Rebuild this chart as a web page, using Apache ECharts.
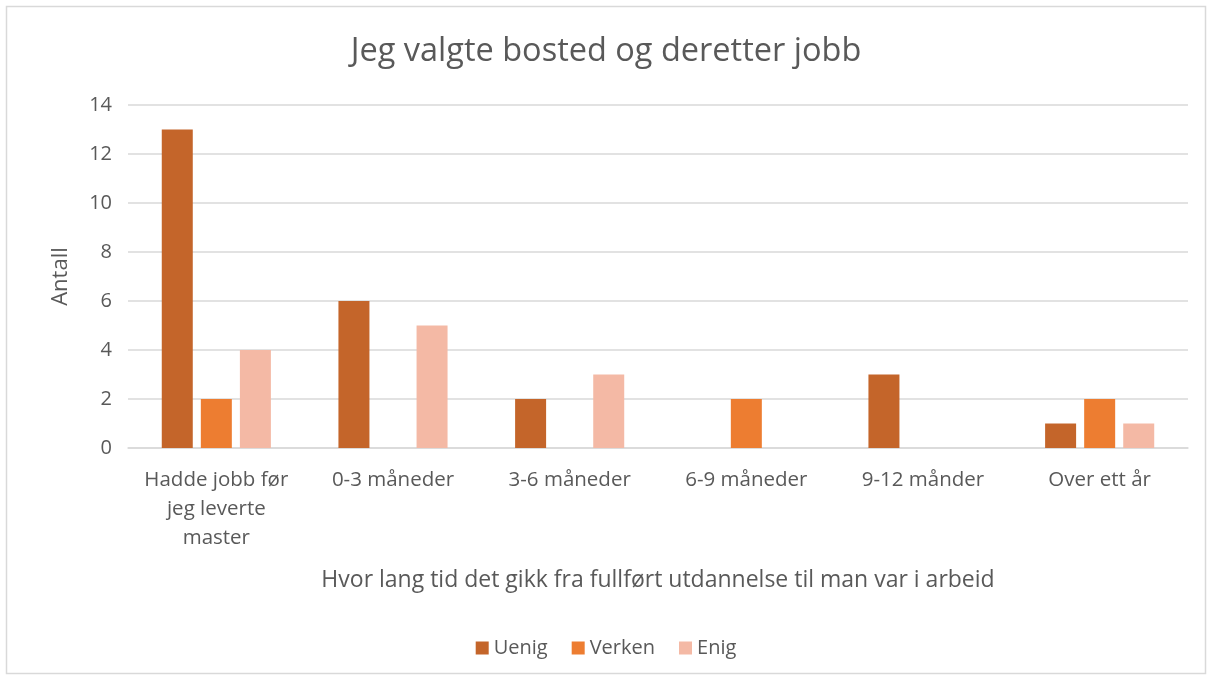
<!DOCTYPE html>
<html><head><meta charset="utf-8">
<script src="https://cdn.jsdelivr.net/npm/echarts@6/dist/echarts.min.js"></script>
<style>html,body{margin:0;padding:0;background:#fff}#c{width:1212px;height:680px}</style>
</head><body><div id="c"></div>
<script>
const categories = ["Hadde jobb før\njeg leverte\nmaster", "0-3 måneder", "3-6 måneder", "6-9 måneder", "9-12 månder", "Over ett år"];
const uenig = [13, 6, 2, 0, 3, 1];
const verken = [2, 0, 0, 2, 0, 2];
const enig = [4, 5, 3, 0, 0, 1];
const yTicks = [0, 2, 4, 6, 8, 10, 12, 14];

const font = "Open Sans, Liberation Sans, sans-serif";
const hideZero = arr => arr.map(v => v === 0 ? null : v);
const chart = echarts.init(document.getElementById('c'));
chart.setOption({
  animation: false,
  backgroundColor: '#fff',
  graphic: [{type:'rect', shape:{x:6.5,y:6.5,width:1199,height:667}, style:{fill:'none', stroke:'#d9d9d9', lineWidth:1.5}}],
  title: {text: 'Jeg valgte bosted og deretter jobb', left: 'center', top: 30,
    textStyle: {fontFamily: font, fontSize: 32.5, fontWeight: 'normal', color: '#595959'}},
  legend: {bottom: 17, left: 'center', itemWidth: 13, itemHeight: 13, itemGap: 24,
    icon: 'rect', textStyle: {fontFamily: font, fontSize: 20, color: '#595959'},
    data: ['Uenig', 'Verken', 'Enig']},
  grid: {left: 128, right: 24, top: 105, bottom: 232, containLabel: false},
  xAxis: {type: 'category', data: categories,
    axisLine: {lineStyle: {color: '#d9d9d9', width: 1.5}}, axisTick: {show: false},
    axisLabel: {fontFamily: font, fontSize: 20.5, color: '#595959', lineHeight: 29, margin: 18, interval: 0},
    name: 'Hvor lang tid det gikk fra fullført utdannelse til man var i arbeid',
    nameLocation: 'middle', nameGap: 121,
    nameTextStyle: {fontFamily: font, fontSize: 23, color: '#595959'}},
  yAxis: {type: 'value', min: 0, max: 14, interval: 2,
    axisLabel: {fontFamily: font, fontSize: 20, color: '#595959', margin: 16},
    splitLine: {lineStyle: {color: '#d9d9d9', width: 1.5}},
    axisLine: {show: false}, axisTick: {show: false},
    name: 'Antall', nameLocation: 'middle', nameGap: 56, nameRotate: 90,
    nameTextStyle: {fontFamily: font, fontSize: 22, color: '#595959'}},
  series: [
    {name: 'Uenig', type: 'bar', data: hideZero(uenig), barWidth: 31, barGap: '26%', itemStyle: {color: '#C4652A'}},
    {name: 'Verken', type: 'bar', data: hideZero(verken), barWidth: 31, barGap: '26%', itemStyle: {color: '#ED7D31'}},
    {name: 'Enig', type: 'bar', data: hideZero(enig), barWidth: 31, barGap: '26%', itemStyle: {color: '#F4B9A5'}}
  ]
});
</script></body></html>
